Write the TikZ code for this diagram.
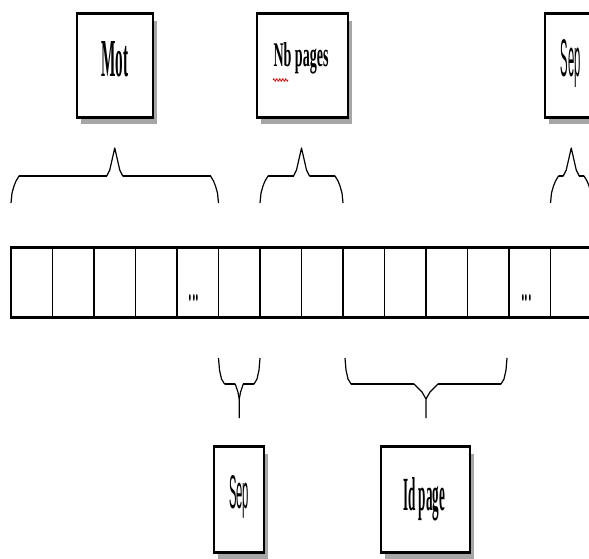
\documentclass[tikz,border=0pt]{standalone}
\usepackage{graphicx}
\usepackage{fontspec}
\setmainfont{Liberation Serif}
\newfontfamily\sepfont{Liberation Sans}
\usetikzlibrary{shadows,decorations.pathmorphing,calc}

\newcommand\bracetop[3]{%
  \pgfmathsetmacro\bxm{(#1+#2)/2}
  \draw[braceline] (#1,203) -- (#1+1,193) -- (#1+3,186) -- (#1+5,181) -- (#1+8,176) -- (\bxm-8,176) -- (\bxm-5,170) -- (\bxm,148) -- (\bxm+5,170) -- (\bxm+8,176) -- (#2-8,176) -- (#2-5,181) -- (#2-3,186) -- (#2-1,193) -- (#2,203);
  \draw[bracebar] (#1+8,176) -- (\bxm-8,176) (\bxm+8,176) -- (#2-8,176);
  \coordinate (#3) at (\bxm,148);
}
\newcommand\bracebottom[4]{%
  \pgfmathsetmacro\bxm{(#1+#2)/2}
  \draw[braceline] (#1,358) -- (#1+1,370) -- (#1+3,379) -- (#1+6,384) -- (\bxm-#4,384) -- (\bxm-#4/3,392) -- (\bxm,399) -- (\bxm,418);
  \draw[braceline] (#2,358) -- (#2-1,370) -- (#2-3,379) -- (#2-6,384) -- (\bxm+#4,384) -- (\bxm+#4/3,392) -- (\bxm,399);
  \draw[bracebar] (#1+6,384) -- (\bxm-#4,384) (\bxm+#4,384) -- (#2-6,384);
  \coordinate (#3) at (\bxm,418);
}

\begin{document}
\begin{tikzpicture}[x=1pt,y=-1pt,
  boxframe/.style={draw=black, line width=1.4pt, fill=white, rectangle, inner sep=0pt,
    drop shadow={shadow xshift=4pt, shadow yshift=-7pt, fill=gray!70, opacity=1}},
  cellbox/.style={draw=black, line width=1.2pt, rectangle, inner sep=0pt,
    minimum width=41.5pt, minimum height=69pt},
  thickedge/.style={line width=3.4pt},
  braceline/.style={line width=1.2pt, line join=round},
  bracebar/.style={line width=2.8pt},
  lbl/.style={inner sep=0pt, anchor=base}
]
\useasboundingbox (0,0) rectangle (589,559);
\clip (0,0) rectangle (589,559);

% top boxes
\node[boxframe, minimum width=76pt, minimum height=103pt] (motbox) at (115,65.5) {};
\node[boxframe, minimum width=91pt, minimum height=103pt] (nbbox) at (302.5,65.5) {};
\node[boxframe, minimum width=50pt, minimum height=103pt] (septbox) at (570,65.5) {};
% bottom boxes
\node[boxframe, minimum width=50pt, minimum height=105pt] (sepbbox) at (239,499.5) {};
\node[boxframe, minimum width=89pt, minimum height=105pt] (idbox) at (425.5,499.5) {};

\foreach \b in {motbox,nbbox,septbox,sepbbox,idbox}{
  \draw[thickedge] (\b.north west) -- (\b.north east);
  \draw[thickedge] (\b.south west) -- (\b.south east);
}

% labels
\node[lbl] (motlbl) at (115,77) {\resizebox{27pt}{35pt}{\bfseries Mot}};
\node[lbl] (nblbl) at (301,67) {\resizebox{55pt}{24pt}{\bfseries Nb pages}};
\node[lbl] (septlbl) at (570.5,77) {\resizebox{20pt}{37pt}{\sepfont Sep}};
\node[lbl] (sepblbl) at (239,508) {\resizebox{20pt}{33pt}{\sepfont Sep}};
\node[lbl] (idlbl) at (424,510) {\resizebox{42pt}{33pt}{\bfseries Id page}};
\draw[red, line width=0.7pt, decorate, decoration={zigzag, segment length=3pt, amplitude=1.3pt}]
  (273,80) -- (288,80);

% strip of cells
\foreach \i in {1,...,14}{
  \node[cellbox] (c\i) at ({11+41.5*(\i-0.5)},282.5) {};
}
\draw[thickedge] (c1.north west) -- (c14.north east);
\draw[thickedge] (c1.south west) -- (c14.south east);
\node (dotsa) at (194,298) {\resizebox{11pt}{6pt}{...}};
\node (dotsb) at (526.5,298) {\resizebox{11pt}{6pt}{...}};

% braces
\bracetop{11}{218.5}{tipmot}
\bracetop{260}{343}{tipnb}
\bracetop{550.5}{592}{tipsept}
\bracebottom{218.5}{260}{tipsepb}{4}
\bracebottom{345}{507}{tipid}{12}
\end{tikzpicture}
\end{document}
